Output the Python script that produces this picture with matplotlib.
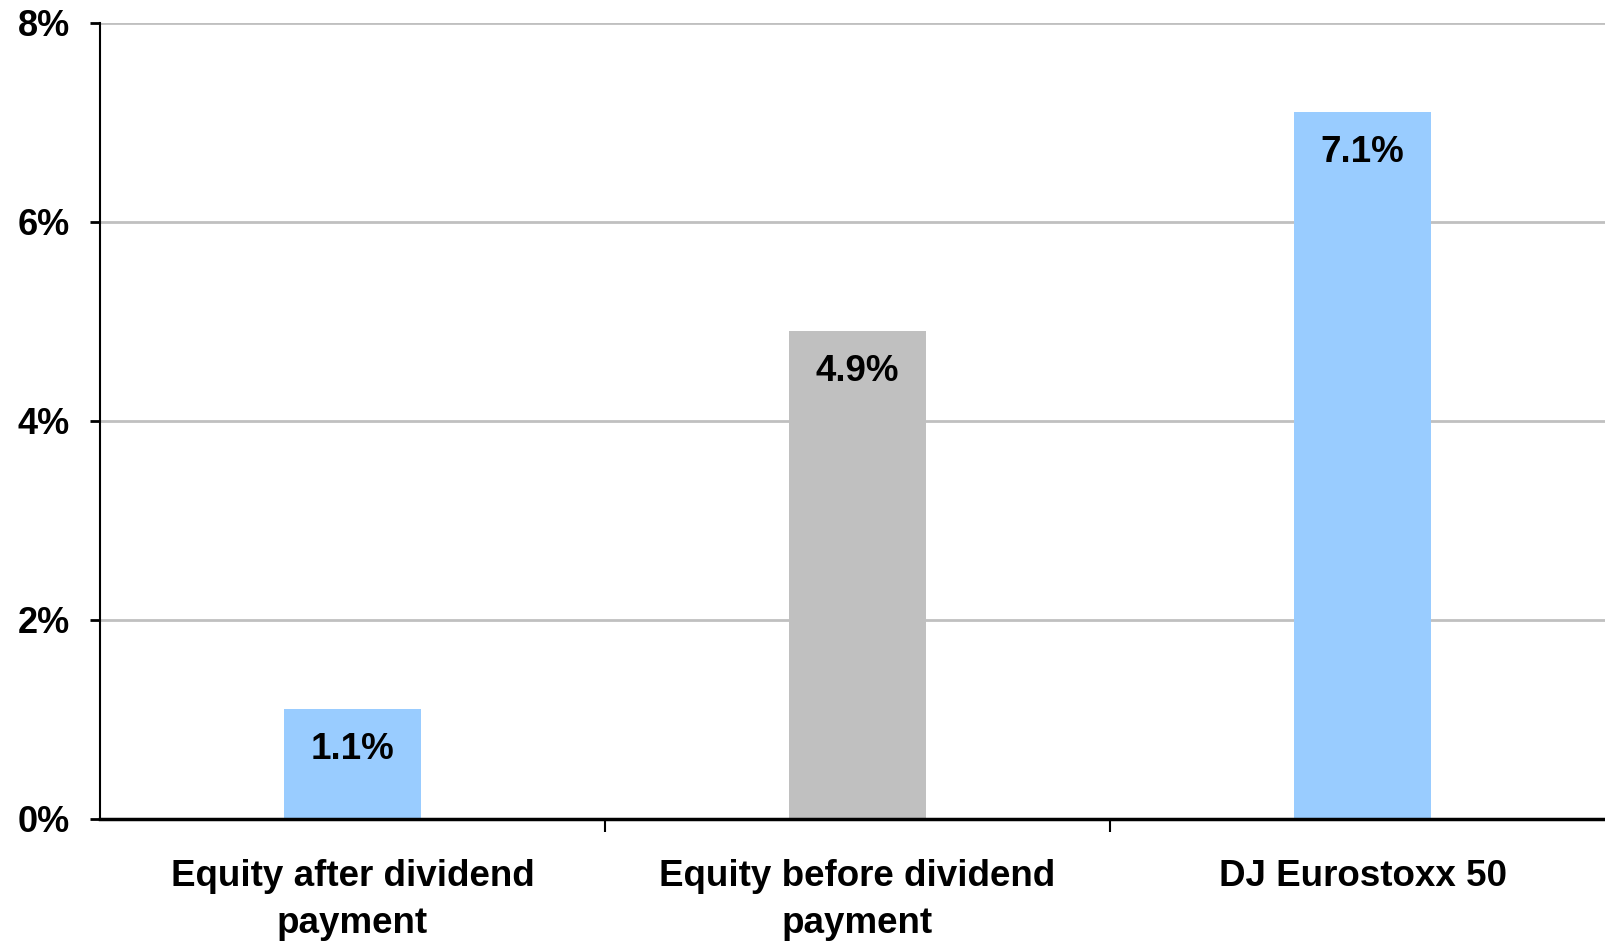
import matplotlib.pyplot as plt
import numpy as np

categories = ["Equity after dividend\npayment", "Equity before dividend\npayment", "DJ Eurostoxx 50"]
values = [1.1, 4.9, 7.1]
bar_colors = ["#99CCFF", "#C0C0C0", "#99CCFF"]
y_ticks = [0, 2, 4, 6, 8]

plt.rcParams['font.family'] = ['Liberation Sans', 'DejaVu Sans']

fig = plt.figure(figsize=(16.05, 9.41), dpi=100)
ax = fig.add_axes([100/1605, 1 - 819/941, 1 - 100/1605, (819 - 22.5)/941])

x = np.arange(len(categories))
ax.bar(x, values, width=0.272, color=bar_colors, zorder=2)

# value labels inside top of bars
for xi, v in zip(x, values):
    ax.annotate(f"{v:.1f}%", (xi, v), xytext=(0, -29), textcoords="offset points",
                ha="center", va="center", fontsize=26.5, fontweight="bold", zorder=3)

ax.set_ylim(0, 8)
ax.set_xlim(-0.5, 2.48)
ax.set_yticks(y_ticks)
ax.set_yticklabels([f"{t}%" for t in y_ticks], fontsize=26, fontweight="bold")
ax.yaxis.grid(True, color="#C0C0C0", linewidth=2, zorder=0)
ax.set_axisbelow(True)

# category labels centred, ticks at category boundaries
ax.set_xticks(x)
ax.set_xticklabels(categories, fontsize=26.5, fontweight="bold", linespacing=1.45)
ax.tick_params(axis="x", length=0, pad=29)
ax.set_xticks([0.5, 1.5], minor=True)
ax.tick_params(axis="x", which="minor", length=9.5, width=1.5, direction="out")
ax.tick_params(axis="y", length=7.5, width=2, pad=14)

for s in ["top", "right"]:
    ax.spines[s].set_visible(False)
ax.spines["left"].set_linewidth(1.5)
ax.spines["bottom"].set_linewidth(2.5)
ax.spines["left"].set_bounds(0, 8)

fig.savefig("out.png", dpi=100)
